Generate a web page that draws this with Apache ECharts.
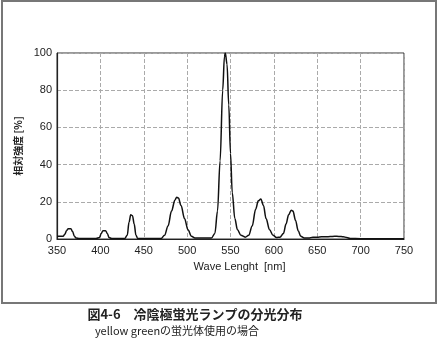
<!DOCTYPE html>
<html>
<head>
<meta charset="utf-8">
<script src="https://cdn.jsdelivr.net/npm/echarts@6/dist/echarts.min.js"></script>
<style>
html,body{margin:0;padding:0;background:#fff;}
#c{width:439px;height:352px;}
</style>
</head>
<body>
<div id="c"></div>
<script>
// Wavelength (nm)
var wavelengths = [350,353,357,359,361,363,366,368,370,372,376,395,399,401,403,406,408,410,413,428,431,433,435,437,439,441,443,470,474,478,482,486,488,490,493,497,501,505,509,528,532,535,538,541,543,544,546,548,550,552,555,558,562,567,571,575,579,582,585,588,591,595,599,603,607,611,614,617,620,622,625,628,631,635,640,645,650,655,660,665,670,675,680,684,688,700,750];
// Relative intensity (%)
var intensity = [1.5,1.5,1.5,2.5,4.5,5.5,5.5,4,1.5,0.5,0.3,0.3,0.8,3,4.5,4.5,3,0.8,0.3,0.3,2,9,13,12.5,8,2,0.3,0.3,2,7,15,21,22.5,22,18,11,5,1.5,0.5,0.5,3,15,42,80,98,100,94,72,46,25,11,5,2,1,2,7,16,20.5,21.5,18,11,5,2,0.8,1,3,8,13,15.5,15,10,4.5,1.5,0.5,0.5,1,1,1.2,1.2,1.3,1.5,1.4,1.2,0.8,0.3,0.2,0.2];
var xTicks = [350,400,450,500,550,600,650,700,750];
var yTicks = [0,20,40,60,80,100];

var series = wavelengths.map(function(w,i){return [w,intensity[i]];});
var chart = echarts.init(document.getElementById('c'));
var txt = '#222';
chart.setOption({
  animation:false,
  backgroundColor:'#fff',
  grid:{left:57,right:35,top:53,bottom:113,show:true,borderColor:'#333',borderWidth:1},
  xAxis:{type:'value',min:xTicks[0],max:xTicks[xTicks.length-1],interval:50,
    axisLine:{lineStyle:{color:'#222',width:1.2}},axisTick:{show:false},
    axisLabel:{color:txt,fontSize:11,fontFamily:'Liberation Sans',margin:6},
    splitLine:{show:true,lineStyle:{color:'#aaa',type:[4,2],width:1}},
    name:'Wave Lenght  [nm]',nameLocation:'middle',nameGap:22,
    nameTextStyle:{color:txt,fontSize:11,fontFamily:'Liberation Sans',padding:[0,0,0,18]}},
  yAxis:{type:'value',min:0,max:100,interval:20,
    axisLine:{show:true,lineStyle:{color:'#222',width:1.2}},axisTick:{show:false},
    axisLabel:{color:txt,fontSize:11,fontFamily:'Liberation Sans',margin:5},
    splitLine:{show:true,lineStyle:{color:'#aaa',type:[4,2],width:1}},
    name:'相対強度 [%]',nameLocation:'middle',nameGap:30,
    nameTextStyle:{color:txt,fontSize:10,fontWeight:'bold',fontFamily:'Noto Sans CJK JP'}},
  series:[{type:'line',data:series,showSymbol:false,smooth:0.35,smoothMonotone:'x',
    lineStyle:{color:'#111',width:1.5},z:5}],
  graphic:[
    {type:'rect',shape:{x:2,y:1,width:434,height:302},style:{fill:'none',stroke:'#777',lineWidth:2},silent:true},
    {type:'text',top:308,style:{x:195,text:'図4-6　冷陰極蛍光ランプの分光分布',fill:txt,font:'bold 13px "Noto Sans CJK JP"',textAlign:'center'}},
    {type:'text',top:325,style:{x:177,text:'yellow greenの蛍光体使用の場合',fill:txt,font:'11px "Noto Sans CJK JP"',textAlign:'center'}}
  ]
});
</script>
</body>
</html>
